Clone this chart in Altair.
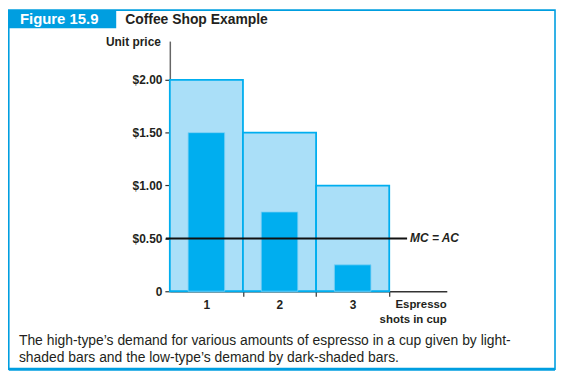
import altair as alt
import pandas as pd

# ---- data ----
shots = [1, 2, 3]
shot_labels = ["1", "2", "3"]
high_type_price = [2.00, 1.50, 1.00]
low_type_price = [1.50, 0.75, 0.25]
mc_ac = 0.50
y_ticks = [0, 0.5, 1.0, 1.5, 2.0]
y_tick_labels = ["0", "$0.50", "$1.00", "$1.50", "$2.00"]

title_fig = "Figure 15.9"
title_text = "Coffee Shop Example"
y_title = "Unit price"
x_title = ["Espresso", "shots in cup"]
mc_label = "MC = AC"
caption = ["The high-type\u2019s demand for various amounts of espresso in a cup given by light-",
           "shaded bars and the low-type\u2019s demand by dark-shaded bars."]

BLUE = "#009ee0"
LIGHT = "#aadff8"
DARK = "#00aeef"
FONT = "Liberation Sans"

W, H = 279, 252
PL = 163  # left padding (plot origin within svg)
xdom = [0, 3.787]
ydom = [0, 2.366]

high_df = pd.DataFrame({"x0": [s - 1 for s in shots], "x1": shots, "price": high_type_price})
low_df = pd.DataFrame({"x0": [s - 0.75 for s in shots], "x1": [s - 0.25 for s in shots], "price": low_type_price})
one = pd.DataFrame({"a": [0]})

label_map = "{" + ",".join(f"'{v:g}':'{l}'" for v, l in zip(y_ticks, y_tick_labels)) + "}"
xlab_map = "{" + ",".join(f"'{v:g}':'{l}'" for v, l in zip(shots, shot_labels)) + "}"

xs = alt.Scale(domain=xdom, nice=False, zero=False)
ys = alt.Scale(domain=ydom, nice=False)

x_axis = alt.Axis(values=shots, labelExpr=f"{xlab_map}[''+datum.value]", labelOffset=-37,
                  tickSize=5, labelPadding=3, labelFont=FONT, labelFontSize=12, labelFontWeight="bold",
                  labelColor="#231f20", domainColor="#333", domainWidth=1.5, tickColor="#333",
                  tickWidth=1.2, grid=False, title=None, labelAngle=0)
y_axis = alt.Axis(values=y_ticks, labelExpr=f"{label_map}[''+datum.value]", tickSize=5, labelPadding=3,
                  labelFont=FONT, labelFontSize=12, labelFontWeight="bold", labelColor="#231f20",
                  domainColor="#666", domainWidth=1.5, tickColor="#333", tickWidth=1.2,
                  grid=False, title=None)

high = alt.Chart(high_df).mark_rect(fill=LIGHT, stroke=DARK, strokeWidth=1.8).encode(
    x=alt.X("x0:Q", scale=xs, axis=x_axis), x2="x1:Q",
    y=alt.Y("price:Q", scale=ys, axis=y_axis), y2=alt.datum(0))

low = alt.Chart(low_df).mark_rect(fill=DARK, stroke="#7fd0f5", strokeWidth=0.8).encode(
    x=alt.X("x0:Q", scale=xs), x2="x1:Q", y=alt.Y("price:Q", scale=ys), y2=alt.datum(0))

mc_rule = alt.Chart(one).mark_rule(color="#111", strokeWidth=2).encode(
    x=alt.value(-4), x2=alt.value(239), y=alt.datum(mc_ac, scale=ys))
mc_text = alt.Chart(one).mark_text(align="left", baseline="middle", font=FONT, fontSize=12,
                                   fontStyle="italic", fontWeight="bold", color="#231f20").encode(
    x=alt.value(242), y=alt.datum(mc_ac, scale=ys), text=alt.value(mc_label))

ytitle = alt.Chart(one).mark_text(align="right", baseline="alphabetic", font=FONT, fontSize=12,
                                  fontWeight="bold", color="#231f20").encode(
    x=alt.value(-9), y=alt.value(5), text=alt.value(y_title))
xtitle = alt.Chart(one).mark_text(align="right", baseline="middle", font=FONT, fontSize=11.5,
                                  fontWeight="bold", color="#231f20", lineHeight=15).encode(
    x=alt.value(W), y=alt.value(266), text=alt.value(x_title))

FL, FR = 0.8 - PL, 551 - PL
frame = alt.Chart(one).mark_rect(fill=None, stroke=BLUE, strokeWidth=1.6).encode(
    x=alt.value(FL), x2=alt.value(FR), y=alt.value(-31.2), y2=alt.value(330.5))
frame_bottom = alt.Chart(one).mark_rule(color=BLUE, strokeWidth=3).encode(
    x=alt.value(FL), x2=alt.value(FR), y=alt.value(330.5))
tab = alt.Chart(one).mark_rect(fill=BLUE).encode(
    x=alt.value(FL), x2=alt.value(109 - PL), y=alt.value(-31.2), y2=alt.value(-13))
fig_text = alt.Chart(one).mark_text(align="left", baseline="alphabetic", font=FONT, fontSize=15,
                                    fontWeight="bold", color="white").encode(
    x=alt.value(12 - PL), y=alt.value(-17.5), text=alt.value(title_fig))
title_t = alt.Chart(one).mark_text(align="left", baseline="alphabetic", font=FONT, fontSize=14,
                                   fontWeight="bold", color="#231f20").encode(
    x=alt.value(118 - PL), y=alt.value(-17.5), text=alt.value(title_text))
cap = alt.Chart(one).mark_text(align="left", baseline="middle", font=FONT, fontSize=14,
                               color="#231f20", lineHeight=17).encode(
    x=alt.value(11 - PL), y=alt.value(302), text=alt.value(caption))

chart = alt.layer(high, low, mc_rule, mc_text, ytitle, xtitle, frame, frame_bottom, tab,
                  fig_text, title_t, cap).properties(
    width=W, height=H,
    padding={"left": PL, "top": 32, "right": 552 - PL - W, "bottom": 80},
    autosize=alt.AutoSizeParams(type="none"),
).configure_view(stroke=None)

chart.save("out.html", embed_options={"renderer": "svg", "actions": False})
